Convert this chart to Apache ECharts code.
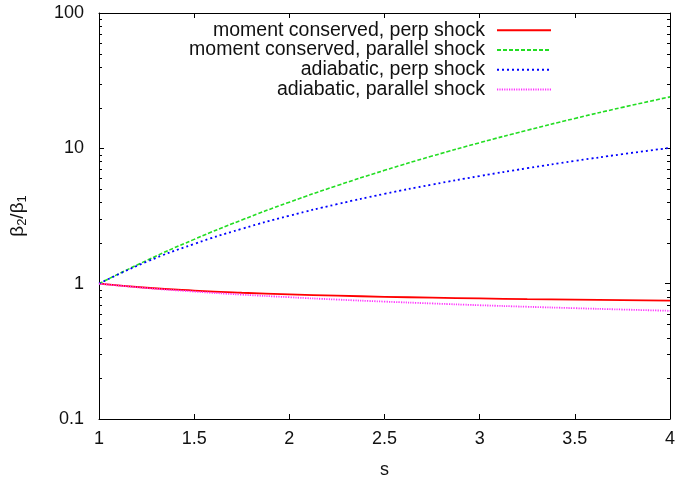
<!DOCTYPE html>
<html>
<head>
<meta charset="utf-8">
<script src="https://cdn.jsdelivr.net/npm/echarts@6/dist/echarts.min.js"></script>
<style>
  html, body { margin: 0; padding: 0; background: #fff; }
  #chart { width: 678px; height: 477px; }
</style>
</head>
<body>
<div id="chart"></div>
<script>
(function(){

    // compression ratio s
    let sValues = [1, 1.25, 1.5, 1.75, 2, 2.25, 2.5, 2.75, 3, 3.25, 3.5, 3.75, 4];

    let momentPerp     = [1, 0.933, 0.889, 0.857, 0.833, 0.815, 0.800, 0.788, 0.778, 0.769, 0.762, 0.756, 0.750];
    let momentParallel = [1, 1.484, 2.125, 2.953, 4.000, 5.297, 6.875, 8.766, 11.00, 13.61, 16.63, 20.08, 24.00];
    let adiabaticPerp  = [1, 1.451, 1.966, 2.541, 3.175, 3.864, 4.606, 5.398, 6.240, 7.131, 8.069, 9.053, 10.08];
    let adiabaticPar   = [1, 0.928, 0.874, 0.830, 0.794, 0.763, 0.737, 0.714, 0.693, 0.675, 0.659, 0.644, 0.630];

    let seriesNames = [
        'moment conserved, perp shock',
        'moment conserved, parallel shock',
        'adiabatic, perp shock',
        'adiabatic, parallel shock'
    ];

    let minorTickValues = [];
    [0.1, 1, 10].forEach(function(d){
        for (let k = 2; k <= 9; k++) { minorTickValues.push(k * d); }
    });

    let _font = 'Liberation Sans, Arial, Helvetica, sans-serif';
    let _ink = '#111';

    let _zip = function(ys){
        return sValues.map(function(x, i){ return [x, ys[i]]; });
    };

    let _makeSeries = function(name, ys, color, dash, width){
        return {
            name: name,
            type: 'line',
            smooth: true,
            symbol: 'none',
            data: _zip(ys),
            lineStyle: {
                color: color,
                width: width,
                type: dash
            },
            itemStyle: { color: color }
        };
    };

    let _makeLegend = function(name, top){
        return {
            data: [name],
            right: 126,
            top: top,
            padding: 0,
            orient: 'vertical',
            align: 'right',
            itemWidth: 54,
            itemHeight: 14,
            itemStyle: { opacity: 0 },
            textStyle: {
                fontFamily: _font,
                fontSize: 19.5,
                color: _ink,
                padding: [0, 7, 0, 0]
            },
            selectedMode: false
        };
    };

    let _axisCommon = {
        axisLine: { show: true, onZero: false, lineStyle: { color: '#000', width: 1 } },
        axisTick: { show: true, inside: true, length: 5, lineStyle: { color: '#000' } },
        splitLine: { show: false }
    };

    let option = {
        animation: false,
        backgroundColor: '#fff',
        grid: { left: 99, right: 8, top: 13, bottom: 58, containLabel: false, outerBoundsMode: 'none' },
        legend: [
            _makeLegend(seriesNames[0], 20.3),
            _makeLegend(seriesNames[1], 40),
            _makeLegend(seriesNames[2], 59.7),
            _makeLegend(seriesNames[3], 79.4)
        ],
        xAxis: [
            Object.assign({}, _axisCommon, {
                type: 'value', min: 1, max: 4, interval: 0.5,
                name: 's', nameLocation: 'middle', nameGap: 42,
                nameTextStyle: { fontFamily: _font, fontSize: 18, color: _ink },
                axisLabel: { fontFamily: _font, fontSize: 18, color: _ink, margin: 11 }
            }),
            Object.assign({}, _axisCommon, {
                type: 'value', min: 1, max: 4, interval: 0.5, position: 'top',
                axisLabel: { show: false }
            })
        ],
        yAxis: [
            Object.assign({}, _axisCommon, {
                type: 'log', logBase: 10, min: 0.1, max: 100,
                name: '{b|β}{s|2}{b|/β}{s|1}', nameLocation: 'middle', nameGap: 70, nameRotate: 90,
                nameTextStyle: {
                    rich: {
                        b: { fontFamily: _font, fontSize: 19, color: _ink },
                        s: { fontFamily: _font, fontSize: 13, color: _ink, padding: [10, 0, 0, 0] }
                    }
                },
                axisLabel: { fontFamily: _font, fontSize: 18, color: _ink, margin: 15 }
            }),
            Object.assign({}, _axisCommon, {
                type: 'log', logBase: 10, min: 0.1, max: 100, position: 'right',
                axisLabel: { show: false }
            })
        ],
        series: [
            _makeSeries(seriesNames[0], momentPerp, '#ff0000', 'solid', 1.8),
            _makeSeries(seriesNames[1], momentParallel, '#22dd22', [4, 2], 1.6),
            _makeSeries(seriesNames[2], adiabaticPerp, '#0000ff', [2, 3], 1.8),
            _makeSeries(seriesNames[3], adiabaticPar, '#ff33ff', [1.2, 1.2], 1.8)
        ]
    };

    let chart = echarts.init(document.getElementById('chart'), null, { renderer: 'canvas' });
    chart.setOption(option);

    // log minor ticks (2..9 per decade) on both sides, placed through the y scale
    let xl = chart.convertToPixel({ xAxisIndex: 0 }, 1);
    let xr = chart.convertToPixel({ xAxisIndex: 0 }, 4);
    let minorTicks = [];
    minorTickValues.forEach(function(v){
        let y = Math.round(chart.convertToPixel({ yAxisIndex: 0 }, v)) + 0.5;
        minorTicks.push({
            type: 'line', silent: true,
            shape: { x1: xl, y1: y, x2: xl + 3, y2: y },
            style: { stroke: '#000', lineWidth: 1 }
        });
        minorTicks.push({
            type: 'line', silent: true,
            shape: { x1: xr - 3, y1: y, x2: xr, y2: y },
            style: { stroke: '#000', lineWidth: 1 }
        });
    });
    chart.setOption({ graphic: minorTicks });

})();
</script>
</body>
</html>
